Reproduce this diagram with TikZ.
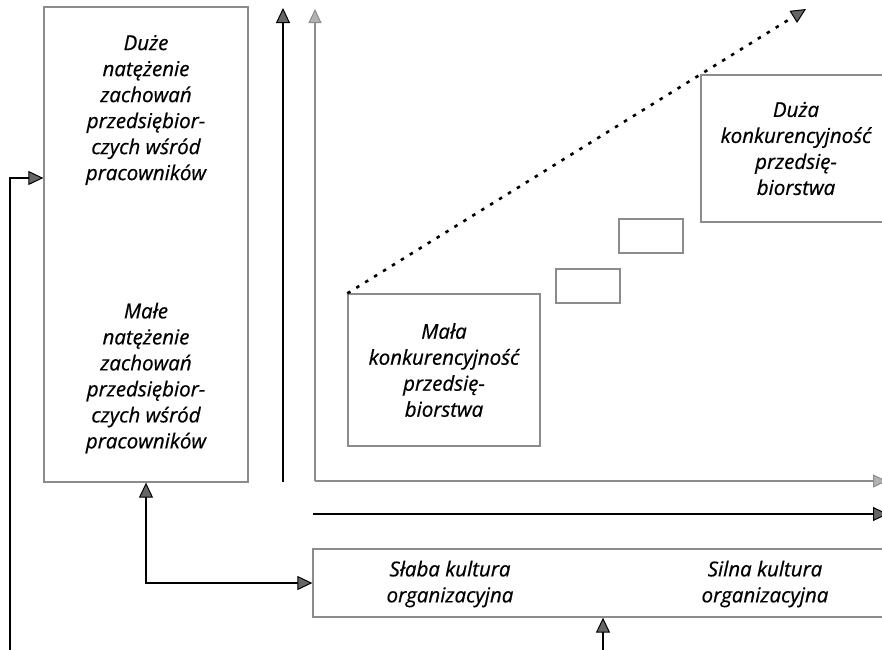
\documentclass[tikz,border=0pt]{standalone}
\usepackage{fontspec}
\setmainfont{Open Sans}
\newfontfamily\labelfont{Open Sans}[FakeBold=0.6]
\usetikzlibrary{arrows.meta}
\tikzset{
  darktip/.tip={Triangle[width=14pt,length=15pt,line width=1pt,fill=black!60]},
  graytip/.tip={Triangle[width=13pt,length=14pt,line width=1pt,fill=black!30]},
}
\begin{document}
\begin{tikzpicture}[x=1pt,y=-1pt,
  boxg/.style={draw=black!45, line width=1.3pt, inner sep=0pt},
  txt/.style={font=\labelfont\itshape\fontsize{20.5}{26}\selectfont, align=center, inner sep=0pt},
  darrow/.style={draw=black, line width=2pt, -darktip},
  garrow/.style={draw=black!45, line width=1.3pt, -graytip},
]
\useasboundingbox (0,0) rectangle (882,649);
\clip (0,0) rectangle (882,649);

% left box
\node[boxg, minimum width=204pt, minimum height=475pt] (lbox) at (146,244.5) {};
\node[txt] (lbtop) at (146,110) {Duże\\natężenie\\zachowań\\przedsiębior-\\czych wśród\\pracowników};
\node[txt] (lbbot) at (146,378) {Małe\\natężenie\\zachowań\\przedsiębior-\\czych wśród\\pracowników};

% gray axes
\coordinate (origin) at (315,481);
\coordinate (ytip) at (315,9);
\coordinate (xtip) at (887,481);
\draw[garrow] (origin) -- (ytip);
\draw[garrow] (origin) -- (xtip);

% dark axes
\coordinate (dvb) at (283,482);
\coordinate (dvt) at (283,8);
\draw[darrow] (dvb) -- (dvt);
\coordinate (dhl) at (313,514);
\coordinate (dhr) at (888,514);
\draw[darrow] (dhl) -- (dhr);

% boxes in the chart
\node[boxg, txt, minimum width=192pt, minimum height=152pt] (mala) at (444,370)
  {Mała\\konkurencyjność\\przedsię-\\biorstwa};
\node[boxg, txt, minimum width=190pt, minimum height=147pt] (duza) at (796,148.5)
  {Duża\\konkurencyjność\\przedsię-\\biorstwa};
\node[boxg, minimum width=64pt, minimum height=34pt] (sb1) at (588,286) {};
\node[boxg, minimum width=64pt, minimum height=34pt] (sb2) at (651,236) {};

% dotted trend arrow
\coordinate (dtip) at (806,9);
\draw[line width=2.6pt, dash pattern=on 3.5pt off 7pt, -darktip] (mala.north west) -- (dtip);

% bottom box
\node[boxg, minimum width=580pt, minimum height=68pt] (bbox) at (603,583) {};
\node[txt] (weak) at (450,584) {Słaba kultura\\organizacyjna};
\node[txt] (strong) at (765,584) {Silna kultura\\organizacyjna};

% connectors
\coordinate (lstart) at (10,660);
\coordinate (lrow) at (0,178);
\draw[darrow] (lstart) |- (lbox.west |- lrow);
\draw[draw=black, line width=2pt, darktip-darktip] (lbox.south) |- (bbox.west);
\coordinate (bstart) at (603,660);
\draw[darrow] (bstart) -- (bbox.south);
\end{tikzpicture}
\end{document}
